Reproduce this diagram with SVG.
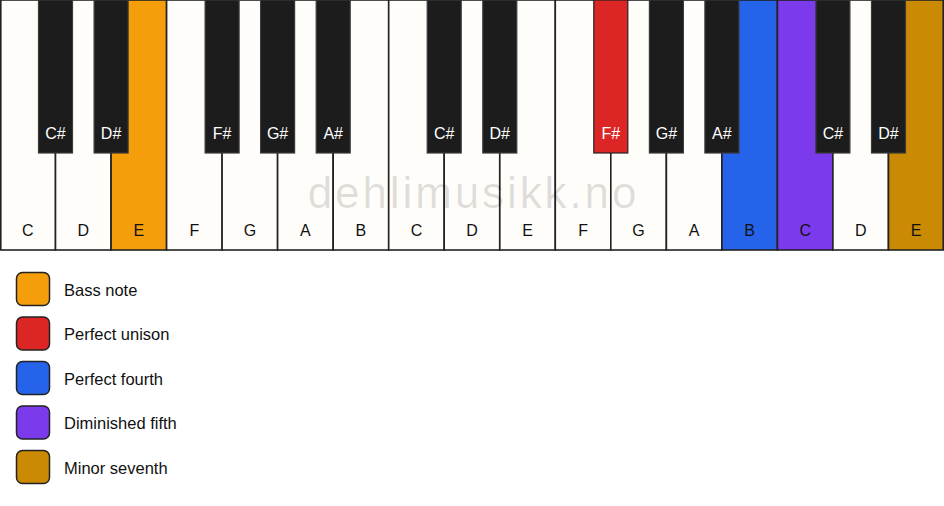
<svg xmlns="http://www.w3.org/2000/svg" width="944" height="506" viewBox="0 0 944 506">
<style>
.w{fill:#fffdf9;stroke:#222;stroke-width:1.6}
.b{fill:#1c1c1c;stroke:#3a3a3a;stroke-width:1.2}
.lw{font-family:"Liberation Sans",Arial,sans-serif;font-size:16px;fill:#111;text-anchor:middle}
.lb{font-family:"Liberation Sans",Arial,sans-serif;font-size:16px;fill:#fff;text-anchor:middle}
.sq{stroke:#222;stroke-width:1.5}
.lt{font-family:"Liberation Sans",Arial,sans-serif;font-size:16.5px;fill:#111}
.wm{font-family:"Liberation Sans",Arial,sans-serif;font-size:44px;fill:#000;fill-opacity:0.12;text-anchor:middle;letter-spacing:2.9px}
</style>
<rect width="944" height="506" fill="#ffffff"/>
<g id="white-keys">
<g id="w0"><rect class="w" x="0.8" y="0" width="54.7" height="250"/><text class="lw" x="27.8" y="236">C</text></g>
<g id="w1"><rect class="w" x="55.5" y="0" width="55.5" height="250"/><text class="lw" x="83.3" y="236">D</text></g>
<g id="w2"><rect class="w" x="111.1" y="0" width="55.5" height="250" style="fill:#f59e0b"/><text class="lw" x="138.8" y="236">E</text></g>
<g id="w3"><rect class="w" x="166.6" y="0" width="55.5" height="250"/><text class="lw" x="194.4" y="236">F</text></g>
<g id="w4"><rect class="w" x="222.1" y="0" width="55.5" height="250"/><text class="lw" x="249.9" y="236">G</text></g>
<g id="w5"><rect class="w" x="277.6" y="0" width="55.5" height="250"/><text class="lw" x="305.4" y="236">A</text></g>
<g id="w6"><rect class="w" x="333.2" y="0" width="55.5" height="250"/><text class="lw" x="360.9" y="236">B</text></g>
<g id="w7"><rect class="w" x="388.7" y="0" width="55.5" height="250"/><text class="lw" x="416.5" y="236">C</text></g>
<g id="w8"><rect class="w" x="444.2" y="0" width="55.5" height="250"/><text class="lw" x="472" y="236">D</text></g>
<g id="w9"><rect class="w" x="499.8" y="0" width="55.5" height="250"/><text class="lw" x="527.5" y="236">E</text></g>
<g id="w10"><rect class="w" x="555.3" y="0" width="55.5" height="250"/><text class="lw" x="583.1" y="236">F</text></g>
<g id="w11"><rect class="w" x="610.8" y="0" width="55.5" height="250"/><text class="lw" x="638.6" y="236">G</text></g>
<g id="w12"><rect class="w" x="666.4" y="0" width="55.5" height="250"/><text class="lw" x="694.1" y="236">A</text></g>
<g id="w13"><rect class="w" x="721.9" y="0" width="55.5" height="250" style="fill:#2563eb"/><text class="lw" x="749.6" y="236">B</text></g>
<g id="w14"><rect class="w" x="777.4" y="0" width="55.5" height="250" style="fill:#7c3aed"/><text class="lw" x="805.2" y="236">C</text></g>
<g id="w15"><rect class="w" x="832.9" y="0" width="55.5" height="250"/><text class="lw" x="860.7" y="236">D</text></g>
<g id="w16"><rect class="w" x="888.5" y="0" width="54.7" height="250" style="fill:#ca8a04"/><text class="lw" x="916.2" y="236">E</text></g>
</g>
<g id="black-keys">
<g id="b1"><rect class="b" x="38.5" y="0" width="34" height="153"/><text class="lb" x="55.5" y="139">C#</text></g>
<g id="b2"><rect class="b" x="94.1" y="0" width="34" height="153"/><text class="lb" x="111.1" y="139">D#</text></g>
<g id="b4"><rect class="b" x="205.1" y="0" width="34" height="153"/><text class="lb" x="222.1" y="139">F#</text></g>
<g id="b5"><rect class="b" x="260.6" y="0" width="34" height="153"/><text class="lb" x="277.6" y="139">G#</text></g>
<g id="b6"><rect class="b" x="316.2" y="0" width="34" height="153"/><text class="lb" x="333.2" y="139">A#</text></g>
<g id="b8"><rect class="b" x="427.2" y="0" width="34" height="153"/><text class="lb" x="444.2" y="139">C#</text></g>
<g id="b9"><rect class="b" x="482.8" y="0" width="34" height="153"/><text class="lb" x="499.8" y="139">D#</text></g>
<g id="b11"><rect class="b" x="593.8" y="0" width="34" height="153" style="fill:#dc2626;stroke:#222"/><text class="lb" x="610.8" y="139">F#</text></g>
<g id="b12"><rect class="b" x="649.4" y="0" width="34" height="153"/><text class="lb" x="666.4" y="139">G#</text></g>
<g id="b13"><rect class="b" x="704.9" y="0" width="34" height="153"/><text class="lb" x="721.9" y="139">A#</text></g>
<g id="b15"><rect class="b" x="815.9" y="0" width="34" height="153"/><text class="lb" x="832.9" y="139">C#</text></g>
<g id="b16"><rect class="b" x="871.5" y="0" width="34" height="153"/><text class="lb" x="888.5" y="139">D#</text></g>
</g>
<text class="wm" x="473.5" y="208">dehlimusikk.no</text>
<g id="legend">
<g id="leg-bass"><rect class="sq" x="16.5" y="272.5" width="33" height="33" rx="6" fill="#f59e0b"/><text class="lt" x="64" y="295.5">Bass note</text></g>
<g id="leg-unison"><rect class="sq" x="16.5" y="317" width="33" height="33" rx="6" fill="#dc2626"/><text class="lt" x="64" y="340">Perfect unison</text></g>
<g id="leg-fourth"><rect class="sq" x="16.5" y="361.5" width="33" height="33" rx="6" fill="#2563eb"/><text class="lt" x="64" y="384.5">Perfect fourth</text></g>
<g id="leg-dim5"><rect class="sq" x="16.5" y="406" width="33" height="33" rx="6" fill="#7c3aed"/><text class="lt" x="64" y="429">Diminished fifth</text></g>
<g id="leg-min7"><rect class="sq" x="16.5" y="450.5" width="33" height="33" rx="6" fill="#ca8a04"/><text class="lt" x="64" y="473.5">Minor seventh</text></g>
</g>
<g id="connectors"/>
</svg>
